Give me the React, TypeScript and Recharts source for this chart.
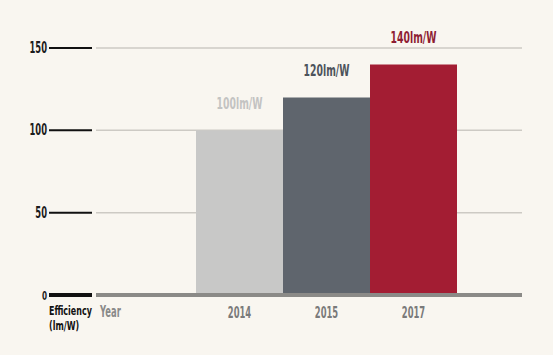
import { Bar, BarChart, CartesianGrid, Cell, Label, LabelList, XAxis, YAxis } from "recharts";

const years = ["2014", "2015", "2017"];
const efficiency = [100, 120, 140];
const valueLabels = ["100lm/W", "120lm/W", "140lm/W"];
const yTicks = [0, 50, 100, 150];

const barColors = ["#c8c8c7", "#5f656d", "#a31d33"];
const labelColors = ["#c3c3c2", "#4d535b", "#8e1d33"];

const FONT = "'DejaVu Sans', sans-serif";

const data = years.map((year, i) => ({
  year,
  value: efficiency[i],
  label: valueLabels[i],
}));

// no condensed face installed, so squeeze DejaVu Bold horizontally
function CText(props: any) {
  const { x, y, anchor = "start", size = 15, fill, sx = 0.56, children } = props;
  return (
    <text
      transform={`translate(${x},${y}) scale(${sx},1)`}
      textAnchor={anchor}
      fontFamily={FONT}
      fontWeight="bold"
      fontSize={size}
      fill={fill}
    >
      {children}
    </text>
  );
}

function YTick(props: any) {
  const { x, y, payload } = props;
  const isZero = payload.value === 0;
  return (
    <g>
      <line x1={x - 47} x2={x - 4} y1={y} y2={y} stroke="#111" strokeWidth={isZero ? 4 : 2} />
      <CText x={x - 49} y={y + 5} anchor="end" size={isZero ? 13 : 15} fill="#1b1b1b">
        {payload.value}
      </CText>
    </g>
  );
}

function XTick(props: any) {
  const { x, y, payload } = props;
  return (
    <CText x={x} y={y + 17} anchor="middle" fill="#7a7a7a">
      {payload.value}
    </CText>
  );
}

function YearLabel(props: any) {
  const { viewBox } = props;
  return (
    <CText x={viewBox.x + 4} y={viewBox.y + 22} fill="#8a8a8a">
      Year
    </CText>
  );
}

function ValueLabel(props: any) {
  const { x, y, width, index } = props;
  return (
    <CText x={x + width / 2} y={y - 21} anchor="middle" sx={0.62} fill={labelColors[index]}>
      {valueLabels[index]}
    </CText>
  );
}

function UnitLabel(props: any) {
  const { viewBox } = props;
  const x = viewBox.x + 49;
  const y = viewBox.y + viewBox.height;
  return (
    <g>
      <CText x={x} y={y + 19.5} size={12.5} sx={0.64} fill="#111">
        Efficiency
      </CText>
      <CText x={x} y={y + 35} size={12.5} sx={0.64} fill="#111">
        (lm/W)
      </CText>
    </g>
  );
}

export default function App() {
  return (
    <div
      style={{
        position: "absolute",
        top: 0,
        left: 0,
        width: 553,
        height: 355,
        background: "#f9f6f0",
      }}
    >
      <BarChart
        width={553}
        height={355}
        data={data}
        margin={{ top: 48, right: 31, bottom: 30, left: 0 }}
        barCategoryGap={0}
        barGap={0}
      >
        <CartesianGrid horizontal={true} vertical={false} stroke="#cdcac4" strokeWidth={1.5} />
        <XAxis
          dataKey="year"
          padding={{ left: 100, right: 65 }}
          axisLine={{ stroke: "#8b8a87", strokeWidth: 4 }}
          tickLine={false}
          tickSize={0}
          tickMargin={6}
          height={30}
          tick={<XTick />}
        >
          <Label content={<YearLabel />} />
        </XAxis>
        <YAxis
          width={96}
          domain={[0, 150]}
          ticks={yTicks}
          axisLine={false}
          tickLine={false}
          tickSize={0}
          tickMargin={0}
          tick={<YTick />}
          interval={0}
        >
          <Label content={<UnitLabel />} />
        </YAxis>
        <Bar dataKey="value" isAnimationActive={false}>
          {data.map((d, i) => (
            <Cell key={d.year} fill={barColors[i]} />
          ))}
          <LabelList dataKey="label" content={<ValueLabel />} />
        </Bar>
      </BarChart>
    </div>
  );
}
